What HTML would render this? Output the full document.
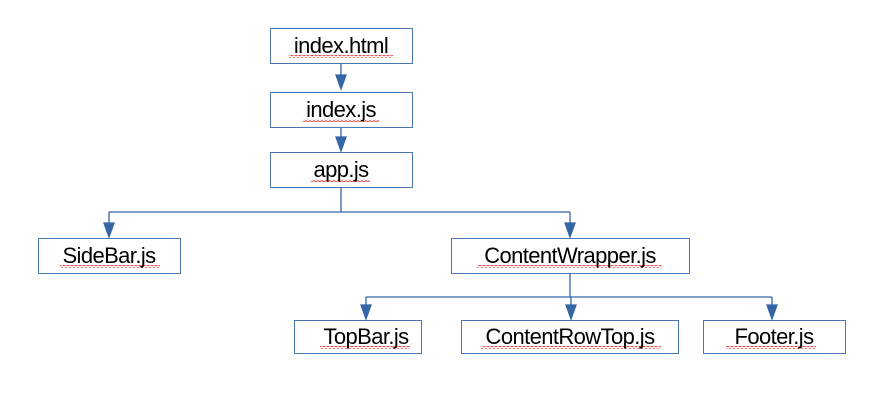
<!DOCTYPE html>
<html><head><meta charset="utf-8"><style>
body{margin:0;background:#fff;}
svg text{font-family:"Liberation Sans",sans-serif;font-size:22px;fill:#000;text-anchor:middle;letter-spacing:-0.6px;}
</style></head><body>
<svg width="880" height="402" xmlns="http://www.w3.org/2000/svg">
<defs>
<pattern id="w" width="4" height="3" patternUnits="userSpaceOnUse"><path d="M0,2 L2,0.5 L4,2" fill="none" stroke="#e03030" stroke-width="0.8"/></pattern>
</defs>
<g fill="none" stroke="#3465a4" stroke-width="1.3">
<path d="M341,63 V75"/><path d="M336,75 h10 l-5,14 z" fill="#3465a4"/>
<path d="M341,127 V137"/><path d="M336,137 h10 l-5,14 z" fill="#3465a4"/>
<path d="M341,187 V212 M109,212 H570 M109,212 V223 M570,212 V223"/>
<path d="M104,223 h10 l-5,14 z" fill="#3465a4"/>
<path d="M565,223 h10 l-5,14 z" fill="#3465a4"/>
<path d="M570,273 V297 M366,297 H772 M366,297 V305 M571,297 V305 M772,297 V305"/>
<path d="M361,305 h10 l-5,14 z" fill="#3465a4"/>
<path d="M566,305 h10 l-5,14 z" fill="#3465a4"/>
<path d="M767,305 h10 l-5,14 z" fill="#3465a4"/>
</g>
<g fill="#fff" stroke="#4a76b0" stroke-width="1">
<rect x="270.5" y="28.5" width="142" height="35"/>
<rect x="270.5" y="92.5" width="142" height="35"/>
<rect x="270.5" y="152.5" width="142" height="35"/>
<rect x="38.5" y="238.5" width="142" height="35"/>
<rect x="451.5" y="238.5" width="238" height="35"/>
<rect x="294.5" y="320.5" width="127" height="33"/>
<rect x="461.5" y="320.5" width="217" height="33"/>
<rect x="703.5" y="320.5" width="142" height="33"/>
</g>
<g fill="url(#w)">
<rect x="289" y="55" width="104" height="3"/>
<rect x="303" y="119" width="76" height="3"/>
<rect x="311" y="179" width="59" height="3"/>
<rect x="60" y="265" width="100" height="3"/>
<rect x="477" y="265" width="185" height="3"/>
<rect x="320" y="346" width="90" height="3"/>
<rect x="481" y="346" width="180" height="3"/>
<rect x="726" y="346" width="90" height="3"/>
</g>
<text x="341" y="53">index.html</text>
<text x="341" y="117">index.js</text>
<text x="341" y="177">app.js</text>
<text x="109" y="263">SideBar.js</text>
<text x="570" y="263">ContentWrapper.js</text>
<text x="366" y="344">TopBar.js</text>
<text x="570" y="344">ContentRowTop.js</text>
<text x="774" y="344">Footer.js</text>
</svg>
</body></html>
